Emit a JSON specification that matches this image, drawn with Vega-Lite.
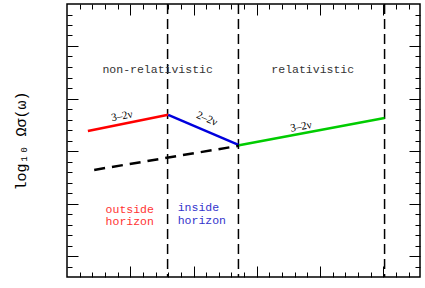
{
  "$schema": "https://vega.github.io/schema/vega-lite/v6.json",
  "width": 353,
  "height": 273,
  "autosize": "none",
  "padding": {"left": 67, "top": 4, "right": 5, "bottom": 11},
  "config": {
    "view": {"stroke": "black", "strokeWidth": 1.5},
    "axis": {"grid": false, "labels": false, "domain": false, "tickColor": "black", "tickWidth": 1}
  },
  "datasets": {
    "vlines": [{"x": 1.59}, {"x": 2.71}, {"x": 5.02}],
    "segs": [
      {"seg": "red", "x": 0.33, "y": 2.38},
      {"seg": "red", "x": 1.60, "y": 2.69},
      {"seg": "blue", "x": 1.60, "y": 2.69},
      {"seg": "blue", "x": 2.72, "y": 2.11},
      {"seg": "green", "x": 2.72, "y": 2.11},
      {"seg": "green", "x": 5.02, "y": 2.63}
    ],
    "dashed": [{"x": 0.43, "y": 1.64}, {"x": 2.72, "y": 2.10}],
    "slopes": [
      {"seg": "red", "label": "3–2ν", "x": 0.87, "y": 2.66},
      {"seg": "blue", "label": "2–2ν", "x": 2.21, "y": 2.61},
      {"seg": "green", "label": "3–2ν", "x": 3.70, "y": 2.46}
    ],
    "regions": [
      {"c": "gray", "label": "non-relativistic", "x": 0.56, "y": 3.54},
      {"c": "gray", "label": "relativistic", "x": 3.23, "y": 3.54},
      {"c": "red", "label": "outside", "x": 0.61, "y": 0.88},
      {"c": "red", "label": "horizon", "x": 0.61, "y": 0.64},
      {"c": "blue", "label": "inside", "x": 1.75, "y": 0.91},
      {"c": "blue", "label": "horizon", "x": 1.75, "y": 0.66}
    ]
  },
  "layer": [
    {
      "data": {"name": "vlines"},
      "mark": {"type": "rule", "color": "black", "strokeWidth": 1.5, "strokeDash": [10, 5]},
      "encoding": {
        "x": {"field": "x", "type": "quantitative", "scale": {"domain": [0, 5.58], "nice": false, "zero": false},
              "axis": {"orient": "bottom", "values": [1, 2, 3, 4, 5], "tickSize": -11, "title": null}}
      }
    },
    {
      "data": {"name": "segs"},
      "mark": {"type": "line", "strokeWidth": 2.5},
      "encoding": {
        "x": {"field": "x", "type": "quantitative", "scale": {"domain": [0, 5.58], "nice": false, "zero": false},
              "axis": {"orient": "bottom", "values": [0.2,0.4,0.6,0.8,1.2,1.4,1.6,1.8,2.2,2.4,2.6,2.8,3.2,3.4,3.6,3.8,4.2,4.4,4.6,4.8,5.2,5.4], "tickSize": -5, "title": null}},
        "y": {"field": "y", "type": "quantitative", "scale": {"domain": [-0.4, 4.8], "nice": false, "zero": false},
              "axis": {"orient": "left", "values": [0, 1, 2, 3, 4], "tickSize": -11, "title": "log₁₀ Ωσ(ω)", "titleFont": "Liberation Mono", "titleFontSize": 15, "titleFontWeight": "normal", "titleColor": "black", "titlePadding": 38}},
        "color": {"field": "seg", "type": "nominal", "legend": null,
                  "scale": {"domain": ["red", "blue", "green"], "range": ["#ff0000", "#0000dd", "#00cc00"]}},
        "detail": {"field": "seg"}
      }
    },
    {
      "data": {"name": "dashed"},
      "mark": {"type": "line", "color": "black", "strokeWidth": 2.5, "strokeDash": [11, 7]},
      "encoding": {
        "x": {"field": "x", "type": "quantitative", "scale": {"domain": [0, 5.58], "nice": false, "zero": false},
              "axis": {"orient": "top", "values": [1, 2, 3, 4, 5], "tickSize": -11, "title": null}},
        "y": {"field": "y", "type": "quantitative", "scale": {"domain": [-0.4, 4.8], "nice": false, "zero": false},
              "axis": {"orient": "left", "values": [-0.2,0.2,0.4,0.6,0.8,1.2,1.4,1.6,1.8,2.2,2.4,2.6,2.8,3.2,3.4,3.6,3.8,4.2,4.4,4.6], "tickSize": -5, "title": null}}
      }
    },
    {
      "data": {"name": "slopes"},
      "transform": [{"filter": "datum.seg === 'red'"}],
      "mark": {"type": "text", "font": "Liberation Serif", "fontSize": 11, "color": "black", "align": "center", "baseline": "middle", "angle": 349},
      "encoding": {
        "x": {"field": "x", "type": "quantitative", "scale": {"domain": [0, 5.58], "nice": false, "zero": false},
              "axis": {"orient": "top", "values": [0.2,0.4,0.6,0.8,1.2,1.4,1.6,1.8,2.2,2.4,2.6,2.8,3.2,3.4,3.6,3.8,4.2,4.4,4.6,4.8,5.2,5.4], "tickSize": -5, "title": null}},
        "y": {"field": "y", "type": "quantitative", "scale": {"domain": [-0.4, 4.8], "nice": false, "zero": false},
              "axis": {"orient": "right", "values": [0, 1, 2, 3, 4], "tickSize": -11, "title": null}},
        "text": {"field": "label"}
      }
    },
    {
      "data": {"name": "slopes"},
      "transform": [{"filter": "datum.seg === 'blue'"}],
      "mark": {"type": "text", "font": "Liberation Serif", "fontSize": 11, "color": "black", "align": "center", "baseline": "middle", "angle": 23},
      "encoding": {
        "x": {"field": "x", "type": "quantitative", "scale": {"domain": [0, 5.58], "nice": false, "zero": false}, "axis": null},
        "y": {"field": "y", "type": "quantitative", "scale": {"domain": [-0.4, 4.8], "nice": false, "zero": false}, "axis": null},
        "text": {"field": "label"}
      }
    },
    {
      "data": {"name": "slopes"},
      "transform": [{"filter": "datum.seg === 'green'"}],
      "mark": {"type": "text", "font": "Liberation Serif", "fontSize": 11, "color": "black", "align": "center", "baseline": "middle", "angle": 350},
      "encoding": {
        "x": {"field": "x", "type": "quantitative", "scale": {"domain": [0, 5.58], "nice": false, "zero": false}, "axis": null},
        "y": {"field": "y", "type": "quantitative", "scale": {"domain": [-0.4, 4.8], "nice": false, "zero": false}, "axis": null},
        "text": {"field": "label"}
      }
    },
    {
      "data": {"name": "regions"},
      "mark": {"type": "text", "font": "Liberation Mono", "fontSize": 11.5, "align": "left", "baseline": "middle"},
      "encoding": {
        "x": {"field": "x", "type": "quantitative", "scale": {"domain": [0, 5.58], "nice": false, "zero": false}, "axis": null},
        "y": {"field": "y", "type": "quantitative", "scale": {"domain": [-0.4, 4.8], "nice": false, "zero": false},
              "axis": {"orient": "right", "values": [-0.2,0.2,0.4,0.6,0.8,1.2,1.4,1.6,1.8,2.2,2.4,2.6,2.8,3.2,3.4,3.6,3.8,4.2,4.4,4.6], "tickSize": -5, "title": null}},
        "text": {"field": "label"},
        "color": {"field": "c", "type": "nominal", "legend": null,
                  "scale": {"domain": ["gray", "red", "blue"], "range": ["#333333", "#ff3333", "#3333cc"]}}
      }
    }
  ],
  "resolve": {"axis": {"x": "independent", "y": "independent"}, "scale": {"color": "independent"}}
}
